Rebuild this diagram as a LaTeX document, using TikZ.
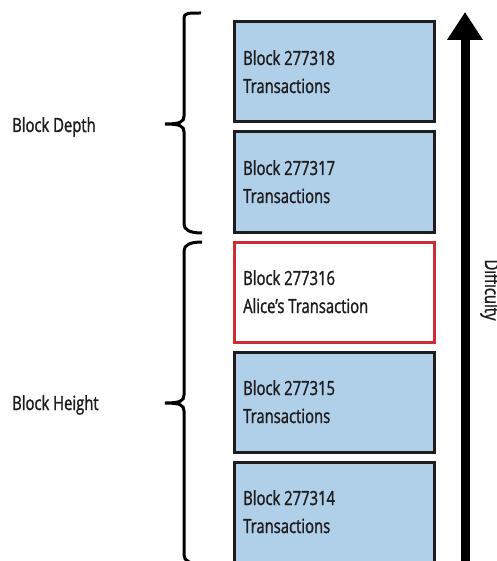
\documentclass[tikz,border=0pt]{standalone}
\usepackage{fontspec}
\setmainfont{Open Sans}[FakeStretch=0.76, FakeBold=1.3]
\usetikzlibrary{arrows.meta}
\definecolor{blockblue}{RGB}{176,208,233}
\definecolor{alicered}{RGB}{205,45,50}
\definecolor{ink}{RGB}{30,28,30}
\begin{document}
\begin{tikzpicture}[x=1pt,y=-1pt,
  block/.style={draw=ink, line width=3pt, fill=blockblue, minimum width=200pt, minimum height=100pt, outer sep=0pt, inner sep=0pt},
  alice/.style={block, draw=alicered, fill=white},
  btext/.style={anchor=base west, inner sep=0pt, text=ink, font=\fontsize{19.5}{22}\selectfont},
  brace/.style={draw=black, line width=3pt},
  bigarrow/.style={draw=black, line width=9pt, -{Triangle[length=28pt,width=34pt]}}
]
\useasboundingbox (0,0) rectangle (496,561);
\fill[white] (0,0) rectangle (496,561);

\node[block] (b318) at (334,72) {};
\node[block] (b317) at (334,182) {};
\node[alice] (b316) at (334,292) {};
\node[block] (b315) at (334,402) {};
\node[block] (b314) at (334,512) {};

\node[btext] (t318a) at ([xshift=9pt,yshift=-43pt]b318.north west) {Block 277318};
\node[btext] (t318b) at ([xshift=9pt,yshift=-71pt]b318.north west) {Transactions};
\node[btext] (t317a) at ([xshift=9pt,yshift=-43pt]b317.north west) {Block 277317};
\node[btext] (t317b) at ([xshift=9pt,yshift=-71pt]b317.north west) {Transactions};
\node[btext] (t316a) at ([xshift=9pt,yshift=-43pt]b316.north west) {Block 277316};
\node[btext] (t316b) at ([xshift=9pt,yshift=-71pt]b316.north west) {Alice’s Transaction};
\node[btext] (t315a) at ([xshift=9pt,yshift=-43pt]b315.north west) {Block 277315};
\node[btext] (t315b) at ([xshift=9pt,yshift=-71pt]b315.north west) {Transactions};
\node[btext] (t314a) at ([xshift=9pt,yshift=-43pt]b314.north west) {Block 277314};
\node[btext] (t314b) at ([xshift=9pt,yshift=-71pt]b314.north west) {Transactions};

\node[btext] (depth) at (12,132) {Block Depth};
\node[btext] (height) at (12,410) {Block Height};

\draw[brace] (201,13) .. controls (188,13) and (184,13) .. (184,18) -- (184,116)
  .. controls (184,122) and (180,124) .. (165,124)
  .. controls (180,124) and (184,126) .. (184,132) -- (184,224)
  .. controls (184,230) and (190,233) .. (202,233);
\draw[brace] (202,242) .. controls (190,242) and (184,245) .. (184,251) -- (184,395)
  .. controls (184,401) and (180,403) .. (165,403)
  .. controls (180,403) and (184,405) .. (184,411) -- (184,555)
  .. controls (184,561) and (190,564) .. (202,564);

\coordinate (abot) at (465,575);
\coordinate (atop) at (465,12);
\draw[bigarrow] (abot) -- (atop);

\node[rotate=-90, anchor=base, inner sep=0pt, text=ink, font=\fontsize{19.5}{22}\selectfont] (diff) at (485,290) {Difficulty};
\end{tikzpicture}
\end{document}
